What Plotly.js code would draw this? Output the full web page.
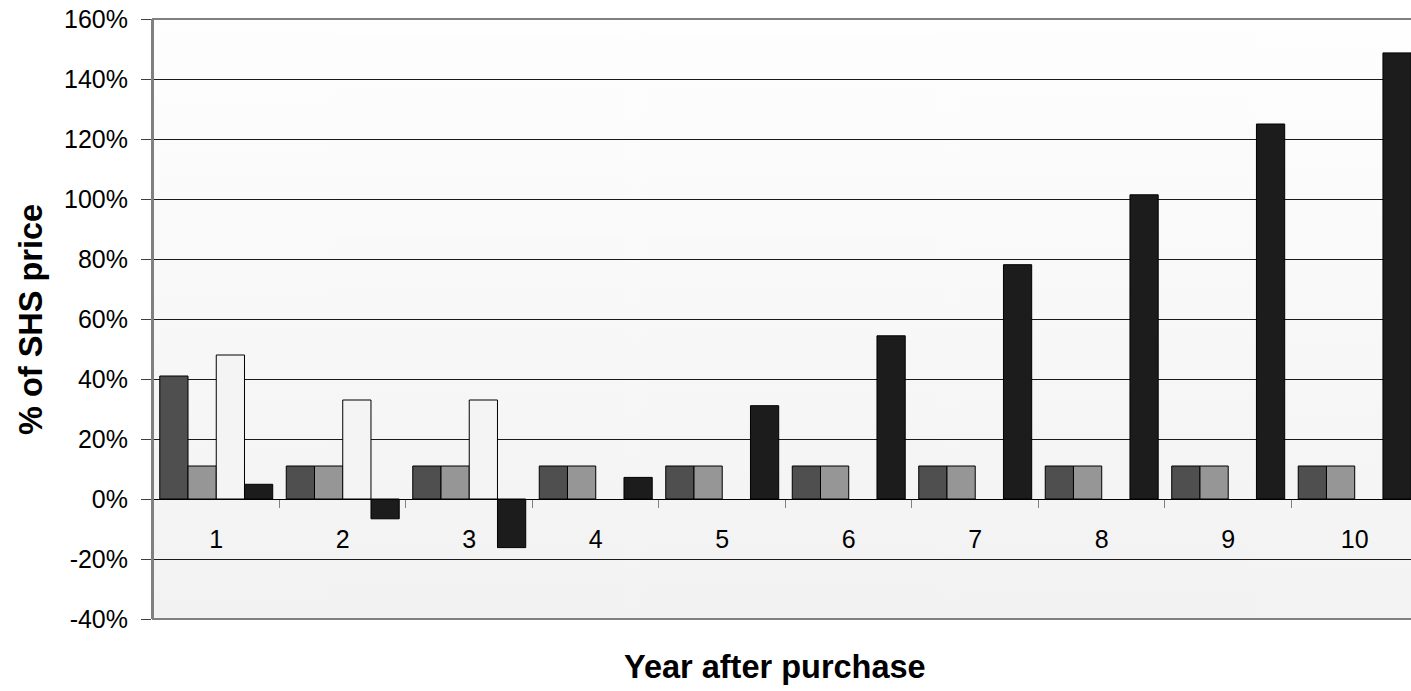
<!DOCTYPE html>
<html>
<head>
<meta charset="utf-8">
<script src="https://cdn.plot.ly/plotly-3.0.1.min.js"></script>
<style>
html,body{margin:0;padding:0;background:#fff;overflow:hidden;}
#chart{width:1411px;height:691px;}
</style>
</head>
<body>
<div id="chart"></div>
<script>
// ---- data (percent of SHS price) ----
var categories = ['1','2','3','4','5','6','7','8','9','10'];
var series1 = [41, 11, 11, 11, 11, 11, 11, 11, 11, 11];
var series2 = [11, 11, 11, 11, 11, 11, 11, 11, 11, 11];
var series3 = [48, 33, 33, null, null, null, null, null, null, null];
var series4 = [4.9, -6.6, -16.2, 7.2, 31.1, 54.4, 78.1, 101.4, 125, 148.7];
var seriesNames = ['Series 1', 'Series 2', 'Series 3', 'Series 4'];
var yTickVals = [-40, -20, 0, 20, 40, 60, 80, 100, 120, 140, 160];
var yTickText = ['-40%', '-20%', '0%', '20%', '40%', '60%', '80%', '100%', '120%', '140%', '160%'];
var xTitle = 'Year after purchase';
var yTitle = '% of SHS price';

var colors = ['#4f4f4f', '#969696', '#f4f4f4', '#1c1c1c'];
var allSeries = [series1, series2, series3, series4];

// background gradient image
var cv = document.createElement('canvas');
cv.width = 4; cv.height = 600;
var ctx = cv.getContext('2d');
var g = ctx.createLinearGradient(0, 0, 0, 600);
g.addColorStop(0, '#fefefe');
g.addColorStop(1, '#f2f2f2');
ctx.fillStyle = g;
ctx.fillRect(0, 0, 4, 600);
var bgUrl = cv.toDataURL('image/png');

var font = 'Liberation Sans, Arial, sans-serif';

var traces = allSeries.map(function (vals, i) {
  return {
    type: 'bar',
    name: seriesNames[i],
    x: categories,
    y: vals,
    marker: { color: colors[i], line: { color: '#000000', width: 1 } },
    hoverinfo: 'skip'
  };
});

var layout = {
  width: 1411,
  height: 691,
  margin: { l: 153, r: 0, t: 19, b: 72 },
  paper_bgcolor: '#ffffff',
  plot_bgcolor: 'rgba(0,0,0,0)',
  showlegend: false,
  barmode: 'group',
  bargap: 0.107,
  bargroupgap: 0,
  font: { family: font, color: '#000000', size: 25 },
  xaxis: {
    type: 'category',
    range: [-0.5, 9.445],
    anchor: 'free',
    position: 0.2,
    showline: true,
    linecolor: '#000000',
    linewidth: 1,
    showgrid: false,
    zeroline: false,
    tickson: 'boundaries',
    ticks: 'outside',
    ticklen: 8,
    tickcolor: '#808080',
    tickwidth: 1,
    ticklabelstandoff: 18,
    tickfont: { family: font, size: 25, color: '#000000' }
  },
  yaxis: {
    range: [-40, 160],
    tickvals: yTickVals,
    ticktext: yTickText,
    showgrid: true,
    gridcolor: '#1a1a1a',
    gridwidth: 1,
    zeroline: true,
    zerolinecolor: '#000000',
    zerolinewidth: 1,
    showline: true,
    linecolor: '#808080',
    linewidth: 2,
    ticks: 'outside',
    ticklen: 10,
    tickcolor: '#404040',
    tickwidth: 1,
    ticklabelstandoff: 8,
    tickfont: { family: font, size: 25, color: '#000000' }
  },
  images: [{
    source: bgUrl,
    xref: 'paper', yref: 'paper',
    x: 0, y: 1, sizex: 1, sizey: 1,
    xanchor: 'left', yanchor: 'top',
    sizing: 'stretch',
    layer: 'below'
  }],
  shapes: [{
    type: 'rect', xref: 'paper', yref: 'paper',
    x0: 0, x1: 1.02, y0: 0, y1: 1,
    line: { color: '#808080', width: 2 },
    fillcolor: 'rgba(0,0,0,0)',
    layer: 'above'
  }],
  annotations: [
    {
      text: '<b>' + xTitle + '</b>',
      xref: 'paper', yref: 'paper',
      x: 0.4944, y: -0.08,
      xanchor: 'center', yanchor: 'middle',
      showarrow: false,
      font: { family: font, size: 32.5, color: '#000000' }
    },
    {
      text: '<b>' + yTitle + '</b>',
      xref: 'paper', yref: 'paper',
      x: -0.097, y: 0.5,
      xanchor: 'center', yanchor: 'middle',
      textangle: -90,
      showarrow: false,
      font: { family: font, size: 32.5, color: '#000000' }
    }
  ]
};

Plotly.newPlot('chart', traces, layout, { displayModeBar: false, staticPlot: true });
</script>
</body>
</html>
